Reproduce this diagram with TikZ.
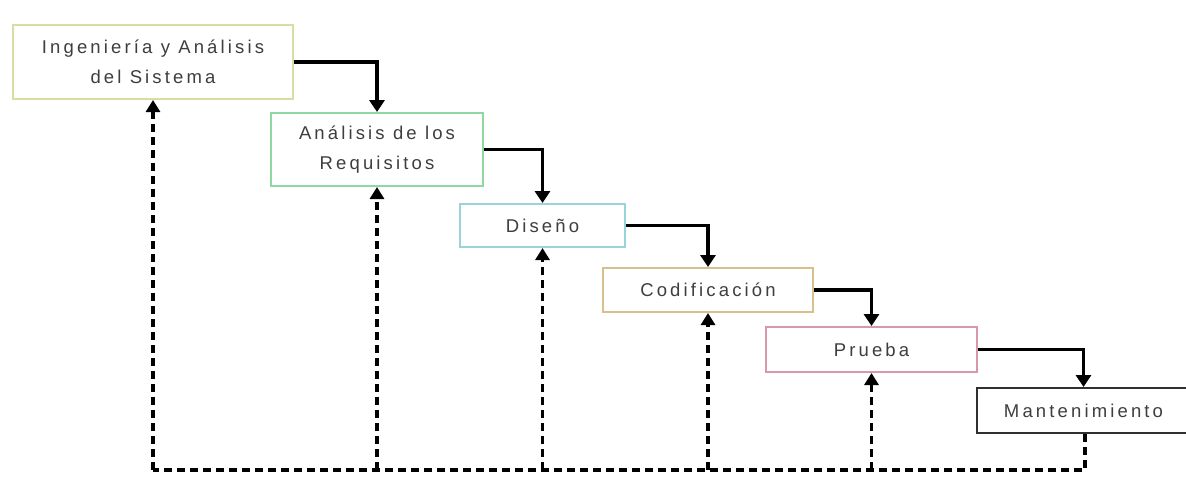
\documentclass[tikz,border=0pt]{standalone}
\usepackage{fontspec}
\setmainfont{Liberation Sans}[LetterSpace=17]
\usetikzlibrary{arrows.meta}

\definecolor{txtgray}{HTML}{3E3E3E}
\definecolor{cIng}{HTML}{D9DEA0}
\definecolor{cReq}{HTML}{8FD8A0}
\definecolor{cDis}{HTML}{98D4D8}
\definecolor{cCod}{HTML}{D9BF8A}
\definecolor{cPru}{HTML}{D898A8}
\definecolor{cMan}{HTML}{303030}

\tikzset{
  phase/.style={draw=#1, line width=2pt, fill=white, rectangle,
    inner sep=0pt, align=center, text=txtgray,
    font=\fontsize{18.5}{30}\selectfont},
  flow/.style={draw=black, line width=3.5pt,
    -{Triangle[width=15pt,length=12pt]}},
  back/.style={draw=black, line width=3.5pt, dash pattern=on 8pt off 5pt,
    -{Triangle[width=14pt,length=12pt]}},
  backline/.style={draw=black, line width=3.5pt, dash pattern=on 8pt off 5pt},
}

\begin{document}
\begin{tikzpicture}[x=1pt,y=-1pt]
\useasboundingbox (0,0) rectangle (1186,498);
\fill[white] (0,0) rectangle (1186,498);

% phases of the waterfall
\node[phase=cIng, minimum width=280pt, minimum height=74pt] (ing) at (153,62)
  {Ingeniería y Análisis\\del Sistema};
\node[phase=cReq, minimum width=212pt, minimum height=73pt] (req) at (377,149.5)
  {Análisis de los\\Requisitos};
\node[phase=cDis, minimum width=165pt, minimum height=43pt] (dis) at (542.5,225.5)
  {Diseño};
\node[phase=cCod, minimum width=210pt, minimum height=44pt] (cod) at (708,290)
  {Codificación};
\node[phase=cPru, minimum width=211pt, minimum height=45pt] (pru) at (871.5,349.5)
  {Prueba};
\node[phase=cMan, minimum width=213pt, minimum height=45pt] (man) at (1083.5,410.5)
  {Mantenimiento};

% forward steps
\draw[flow] (ing.east) -| (req.north);
\draw[flow] (req.east) -| (dis.north);
\draw[flow] (dis.east) -| (cod.north);
\draw[flow] (cod.east) -| (pru.north);
\draw[flow] (pru.east) -| (man.north);

% feedback paths
\coordinate (fb) at (1085,470);
\coordinate (fbl) at (153,470);
\draw[backline] (man.south -| fb) -- (fb) -- (fbl);
\draw[back] (fbl) -- (ing.south);
\draw[back] (fbl -| req.south) -- (req.south);
\draw[back] (fbl -| dis.south) -- (dis.south);
\draw[back] (fbl -| cod.south) -- (cod.south);
\draw[back] (fbl -| pru.south) -- (pru.south);
\end{tikzpicture}
\end{document}
